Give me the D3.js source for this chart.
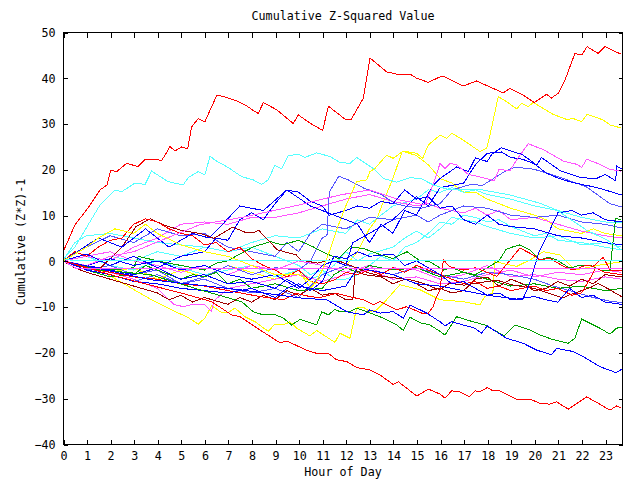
<!DOCTYPE html>
<html><head><meta charset="utf-8">
<script src="https://cdn.jsdelivr.net/npm/d3@7"></script>
<style>
html,body{margin:0;padding:0;background:#fff;}
text{font-family:"DejaVu Sans Mono",monospace;font-size:11.7px;fill:#000;}
</style></head>
<body><svg id="chart" width="640" height="480"></svg>
<script>
// ---- data (hour of day, cumulative value) ----
const titleText = "Cumulative Z-Squared Value";
const xTitle = "Hour of Day";
const yTitle = "Cumulative (Z*Z)-1";
const xTickValues = d3.range(0, 24);
const yTickValues = [-40, -30, -20, -10, 0, 10, 20, 30, 40, 50];

const red1 = [[0,1.9],[0.5,7.8],[1.15,12.2],[1.57,15.5],[1.87,16.6],[2.02,19.8],[2.28,19.5],[2.7,21.3],[2.98,20.9],[3.19,20.6],[3.48,22.2],[4.19,22.0],[4.33,23.1],[4.54,25.0],[4.75,24.0],[5.04,24.9],[5.29,24.5],[5.46,29.3],[5.74,31.1],[6.02,30.4],[6.52,36.1],[6.73,36.0],[7.3,35.1],[7.72,34.1],[8.15,32.6],[8.29,32.2],[8.5,34.6],[9.07,33.0],[9.77,30.0],[9.98,31.9],[10.48,30.1],[11.02,28.5],[11.26,33.8],[12.01,30.8],[12.22,30.8],[12.74,35.5],[13.03,44.3],[13.73,41.3],[14.16,40.8],[14.72,40.8],[15.01,39.9],[15.5,39.0],[16.0,40.2],[16.21,40.2],[16.98,38.2],[17.55,39.3],[18.68,36.7],[18.96,37.7],[19.53,36.2],[20.0,34.6],[20.52,36.4],[20.73,35.6],[21.01,36.6],[21.3,39.5],[21.72,45.3],[22.01,45.0],[22.24,46.8],[22.71,45.3],[23.0,46.8],[23.7,45.1]];
const red2 = [[0,0],[0.7,-1],[2,-3],[3.7,-5.3],[5,-7],[6.3,-8.9],[7.16,-11.8],[7.51,-12.2],[8.36,-15.1],[9.21,-17.9],[9.49,-17.5],[10.34,-19.5],[10.76,-20.2],[11.26,-20.2],[11.61,-21.6],[12.04,-22.0],[12.46,-23.3],[13.02,-23.8],[13.45,-24.9],[14.01,-27.0],[14.23,-26.4],[14.58,-27.8],[15.01,-29.5],[15.22,-28.9],[15.5,-28.0],[16.0,-29.1],[16.21,-30.0],[16.49,-28.4],[16.84,-28.6],[17.24,-29.7],[17.48,-28.4],[17.69,-28.6],[18.0,-27.7],[18.26,-28.4],[18.54,-28.4],[19.25,-30.2],[19.81,-30.2],[20.24,-31.1],[20.66,-31.3],[20.95,-30.8],[21.44,-32.4],[22.22,-29.7],[22.71,-31.1],[23.21,-32.6],[23.49,-31.7],[23.7,-32.2]];
const red3 = [[0,0],[1,-1.5],[2,-2.5],[3,-3.5],[4,-4],[5,-5],[6,-5.5],[7,-6.5],[8.36,-7.8],[9.35,-8.5],[9.92,-7.1],[10.48,-7.8],[10.9,-8.0],[11.61,-7.1],[12.32,-8.0],[12.74,-8.5],[13.17,-9.6],[13.45,-8.9],[14.16,-10.7],[14.58,-10.0],[15.22,-11.4],[15.5,-11.4],[15.71,-10.0],[15.85,-7.8],[16,-6.3],[16.14,0.2],[16.42,-1.3],[17,-2],[17.5,-1.5],[18,-2.5],[18.4,-3.4],[19.04,0.6],[19.39,2.8],[19.95,1.3],[20.24,0.2],[20.66,0.6],[21.23,-1.2],[21.65,-2.0],[22.22,-0.9],[22.5,-1.2],[22.92,0.8],[23.21,-2.0],[23.7,-2.0]];
const red4 = [[0,0],[0.5,2],[1,1],[1.5,3],[2,4.5],[2.5,5],[3,8],[3.5,9.2],[4,8.5],[4.5,7],[5,6],[5.5,5.5],[6,3.5],[6.5,4],[7,2],[7.5,3],[8,0.5],[8.5,-1],[9,-2],[9.5,-3.5],[10,-2],[10.5,-4.5],[11,-5],[11.5,-4.2],[12,-2.5],[12.5,-3],[13,-2],[13.5,-3],[14,-1.5],[14.5,-2.5],[15,-1],[15.5,-2],[16,-3],[16.5,-4],[17,-5],[17.5,-4.5],[18,-6],[18.5,-5.5],[19,-6.5],[20,-5.5],[20.5,-6.5],[21,-6],[21.6,-7.5],[22,-7],[22.3,-4.5],[22.6,-1.5],[23,-2.5],[23.7,-3]];
const darkred1 = [[0,0],[0.5,-1],[1.5,-2],[2.5,3],[3.1,7.5],[3.7,9.2],[4.3,7.8],[5.0,6.7],[5.9,5.9],[6.4,4.9],[7.2,7.4],[7.8,6.1],[8.15,6.3],[8.3,6.7],[9.1,2.4],[9.9,1.3],[10.1,0.2],[10.8,-0.5],[11.3,0.2],[11.8,-0.2],[12.2,-1],[13.0,-2.7],[13.6,-3.4],[14.2,-3.8],[14.7,-4.1],[15.3,-4.9],[15.8,-6],[16,-6.3],[16.4,-4.9],[17,-5.3],[18.4,-4.2],[19.1,-5.3],[20,-6],[21.2,-8.1],[21.5,-7.4],[22.4,-5.8],[22.7,-4.9],[23.2,-6.3],[23.7,-7.8]];
const darkred2 = [[0,0],[0.5,-1.5],[1,-2.5],[2,-4],[3,-5.5],[4,-7],[4.5,-8.5],[5,-7.5],[5.5,-9],[6,-8],[7,-9.5],[7.5,-8],[8,-9],[8.5,-7.5],[9,-8.5],[9.5,-6.5],[10,-7.5],[10.5,-6],[11,-7.5],[11.5,-7],[12,-8.5],[12.3,-8.5],[12.4,-2],[12.8,-3],[13.5,-3.5],[14,-5],[14.5,-4],[15,-5],[15.5,-6.5],[16,-6],[16.5,-7],[17,-6.5],[17.5,-4],[18,-3.5],[18.5,-5.5],[19,-4],[19.5,-5],[20,-6.5],[20.5,-6],[21,-4.5],[21.5,-5.5],[22,-4],[22.5,-5],[23,-3],[23.7,-3.5]];
const green1 = [[0,0],[1.57,-2],[3.7,-3],[5.8,-6.3],[7.58,-8.9],[8.07,-11.1],[8.5,-11.8],[8.92,-11.6],[9.35,-12.5],[9.7,-14.0],[10.06,-12.8],[10.76,-14.0],[10.98,-11.1],[11.26,-11.8],[11.54,-10.6],[11.75,-11.1],[12.18,-11.1],[12.46,-10.3],[12.89,-11.1],[13.59,-12.5],[14.16,-14.0],[14.44,-15.2],[14.72,-12.3],[15.15,-13.5],[15.57,-14.0],[16.0,-15.4],[16.21,-16.2],[16.7,-12.2],[17.27,-13.1],[17.9,-14.0],[18.4,-15.4],[18.71,-16.4],[19.18,-14.0],[19.81,-15.1],[20.24,-16.2],[20.8,-17.2],[21.44,-18.0],[21.72,-16.9],[22.01,-12.7],[22.78,-14.7],[23.21,-16.0],[23.49,-14.7],[23.7,-14.5]];
const green2 = [[0,0],[1,-1],[2,-2],[3,-1.5],[3.2,1],[4,0],[5,-1],[6,-2],[6.5,-0.5],[7,0],[7.5,1.5],[8.1,3.1],[8.8,4.2],[9.3,3.5],[10,4.5],[10.6,3.1],[11.2,1.5],[11.7,0.5],[12.2,3.1],[12.8,2.6],[13.5,1.3],[14,0.5],[14.6,2.0],[15.1,0.2],[15.57,-0.2],[16.14,-2.0],[16.5,-1.5],[17,-2.5],[17.5,-3],[18,-1.5],[18.5,0],[18.8,2.5],[19.11,3.1],[19.39,3.5],[19.81,2.4],[20.24,0.2],[20.59,0.8],[20.95,0.2],[21.51,-1.6],[21.93,-0.9],[22.36,-0.9],[22.78,-2.0],[23.21,-2.0],[23.35,4.6],[23.45,9.3],[23.7,8.9]];
const green3 = [[0,0],[1,-2],[2,-3.5],[3,-3],[3.5,-1],[4,-2],[5,-4],[5.5,-3],[6,-3.5],[6.5,-2.5],[7,-5],[7.5,-4],[8,-6],[9,-5],[10,-6.5],[11,-6],[11.5,-3],[12,-1.5],[12.5,-2.5],[13,-1],[14,-2],[15,-1.5],[16,-3.5],[17,-2.5],[18,-4],[19,-5.5],[20,-5],[21,-6],[22,-5.5],[23,-6.5],[23.7,-6]];
const blue1 = [[0,0],[3.7,-4.1],[7.5,-6.3],[10.06,-8.1],[11.19,-8.5],[12.04,-11.1],[12.74,-11.8],[13.02,-10.7],[13.45,-11.4],[14.01,-11.1],[14.44,-12.5],[14.72,-9.6],[15.43,-11.4],[16.0,-13.3],[16.21,-14.2],[16.49,-13.3],[17.13,-14.2],[17.48,-14.7],[17.76,-15.8],[18.0,-14.2],[18.82,-16.9],[19.53,-18.0],[20.1,-19.5],[20.73,-20.5],[20.95,-19.1],[21.65,-19.8],[22.07,-20.9],[22.78,-23.1],[23.46,-24.4],[23.7,-23.7]];
const blue2 = [[0,0],[1.5,5],[2.5,3],[3.5,7],[4.5,3],[5.5,6],[6.2,5],[6.5,6.5],[7.5,12.0],[8.5,11],[9.5,15.5],[10.5,12],[11.5,10],[12.5,8],[13,4],[13.5,8],[14,6],[14.5,11],[15,10],[15.7,16.5],[16,18],[16.7,20.5],[17.2,19.5],[17.5,22.5],[18,21.7],[18.2,23.3],[18.6,24.7],[19.5,23.2],[20.1,20.9],[20.3,22.6],[21.1,19.7],[21.9,18.3],[22.6,17.9],[23,18.9],[23.45,17.5],[23.5,20.7],[23.7,20.1]];
const blue3 = [[0,0],[1,1.5],[2,-1],[3,1],[4,-1.5],[5,1],[6,2],[6.5,5],[7,4.5],[7.5,9],[8,10.5],[8.5,9],[9,12.5],[9.5,15.5],[10,15],[10.5,13],[11,12],[11.3,10],[12,11],[12.5,12],[13,11.5],[13.5,13],[14,12.5],[14.5,15.5],[15,13.5],[15.5,14],[16,11.5],[16.5,12],[17,9],[17.5,8],[18,10],[18.5,8],[19,7.5],[20,7],[21,5.5],[22,5],[23,4],[23.7,3.5]];
const blue4 = [[0,0],[1,-1],[2,-2],[3,-3],[4,-1.5],[5,-4],[6,-3],[7,-5],[8,-4.5],[9,-6],[9.5,-4],[10,-5.5],[11,-6.5],[12,-5.5],[12.5,-1.5],[13,-2],[14,-3],[15,-5],[16,-5.5],[17,-6.5],[18,-7.5],[19.5,-8.5],[19.8,-5],[20.2,2],[20.5,5],[21,10.5],[21.6,11],[22,10],[22.5,10.5],[23,9],[23.7,8.5]];
const blue5 = [[0,0],[1,-1],[2,0.5],[3,-1],[4,0],[5,-2],[6,-1],[7,-3],[8,-4],[9,-3],[10,-6],[10.5,-4],[11,-1],[11.5,0],[12,-1],[12.3,4],[13,6],[14,9],[15,14],[15.5,12],[16,16],[17,17],[17.5,21],[18,23.5],[18.6,23.8],[19,22.6],[19.5,22.2],[20,21.2],[20.5,19.2],[21,18.1],[21.5,17.3],[22,16.7],[22.5,16.2],[23,15.5],[23.7,14.4]];
const blue6 = [[0,0],[1,-2],[2,-3],[3,-4.5],[4,-5],[5,-6],[6,-6.5],[7,-7],[8,-6],[9,-8],[9.5,-6],[10,-5],[10.5,-6.5],[11,-4.5],[11.5,1],[12,0.5],[12.5,2],[13,1],[14,1.5],[14.5,-1],[15,0],[15.5,-1.5],[16,-3],[16.5,-5],[17,-4.5],[17.5,-6],[18,-7.5],[18.5,-7],[19,-8.5],[20,-7.8],[20.5,-8.5],[21,-9],[21.5,-6],[22,-8],[22.5,-7.5],[23,-9],[23.7,-9.5]];
const slate1 = [[0,0],[1,-1.5],[2,-3],[3,-4.5],[4,-3],[5,-5],[6,-3.5],[7,-1],[8,-3],[9,-1.5],[10,-2],[10.5,0],[11,5],[11.2,5.5],[11.3,15],[11.7,18.5],[12.1,17.7],[12.8,15.8],[13.5,14.5],[14.1,12.5],[14.5,12],[15.2,11.5],[16,12.5],[16.5,15.5],[17.3,16.7],[17.8,16.5],[18.8,19.7],[19.2,20.5],[20,20.0],[20.9,18.6],[21.5,17.5],[22.2,16.2],[22.8,14],[23.2,12.5],[23.7,11.8]];
const slate2 = [[0,0],[1,3],[2,5.5],[3,4],[4,7],[5,5.5],[6,6],[7,3],[8,2],[9,1],[9.5,4],[10,2],[10.5,6],[11,8],[12,7],[13,9.5],[14,9],[15,10],[15.5,8.5],[16,10],[17,12],[18,11.5],[19,10],[20,9.5],[21,10],[22,8.5],[23,8],[23.7,7.2]];
const slate3 = [[0,0],[1,-2],[2,-1],[3,-3],[4,-2],[5,-5],[6,-4],[7,-6],[8,-7],[9,-6],[10,-8],[11,-3],[11.5,-2],[12,-1],[13,-2],[14,-3],[15,-1.5],[16,-3],[17,-4],[18,-2.5],[19,-3],[20,-4],[20.8,-5.5],[21.5,-6.5],[22.5,-8],[23.2,-8.8],[23.7,-9.1]];
const magenta1 = [[0,0],[1,-1],[2,1],[3,2],[3.7,3.5],[5.8,7.9],[7.7,9.6],[10,12.2],[11.75,14.4],[13,15.5],[14.3,13.3],[15.36,12.2],[15.7,16.6],[16.0,21.3],[16.21,20.2],[16.42,21.3],[16.7,21.0],[17.2,18.9],[17.8,18.2],[18.3,17.5],[18.5,20.0],[18.96,19.7],[19.31,22.5],[19.74,25.6],[20.38,24.3],[21.23,21.8],[21.8,21.1],[22.01,20.4],[22.22,22.2],[22.78,21.1],[23.21,20.0],[23.7,19.6]];
const magenta2 = [[0,0],[1,-1],[2,-2.5],[3,-4],[4,-6],[4.7,-9.5],[5.1,-10.0],[5.4,-9.6],[6,-9.5],[6.3,-11.0],[6.4,-8.8],[7,-6],[8,-5],[9,-4],[10,-3],[11,-4.5],[12,-3],[13,-2],[14,-4],[15,-3.5],[16,-5],[17,-4.5],[18,-3],[19,-2],[20,-3.5],[21,-2.5],[22,-3],[23,-2],[23.7,-2.5]];
const magenta3 = [[0,0],[1,1],[2,0],[3,3],[4,5],[5,8],[6,8.5],[7,8],[8,9.5],[9,9.5],[10,10.5],[11,12],[12,13.5],[13,14.5],[14,13],[15,12],[15.5,12.5],[16,11.5],[17,10.5],[17.5,11.5],[18,10],[18.5,11],[19,9],[20,9.5],[21,8],[22,6.5],[23,5.5],[23.7,5]];
const magenta4 = [[0,0],[1,1],[2,2],[3,0],[4,-1],[5,-2.5],[6,-1],[7,-3],[8,-1],[9,-2],[10,0],[11,-1],[12,-2.5],[13,-1],[13.5,-3],[14,-1.5],[15,-2],[16,-4],[17,-3],[18,-1],[19,-3.5],[20,-3],[21,-4],[22,-4.5],[23,-3.5],[23.7,-4]];
const magentaFlat = [[0,0],[0.6,-1.75],[23.72,-1.75]];
const cyan1 = [[0,0.4],[0.51,3.1],[1.57,12.2],[2.21,15.5],[2.49,15.1],[3.05,17.0],[3.48,16.7],[3.76,19.6],[4.47,17.3],[5.1,16.6],[5.32,18.2],[5.74,19.5],[6.02,18.8],[6.24,22.9],[6.45,22.0],[7.01,20.4],[7.58,18.4],[8.07,17.7],[8.43,16.7],[8.71,17.7],[8.99,20.9],[9.28,20.1],[9.56,23.0],[9.98,23.3],[10.27,22.6],[10.76,23.6],[11.33,22.8],[11.75,21.5],[12.18,21.3],[12.46,22.6],[13.16,20.2],[13.59,18.0],[14.16,17.2],[14.72,18.2],[15.22,17.9],[15.71,16.6],[16.42,15.5],[17.8,15.5],[18.96,14.4],[20.24,12.6],[20.95,11.1],[22.22,6.7],[23.07,4.6],[23.7,2.4]];
const cyan2 = [[0,0],[0.5,4],[1,5.5],[2,6],[3,5],[4,4],[5,3.5],[6,3],[7,2],[8,3],[9,1],[10,-1],[10.5,-3],[11,-2],[11.5,-4],[12,-4],[12.5,-3],[13,-1],[13.5,1],[14,0],[14.5,3],[15,4],[15.5,6],[16,8.5],[16.5,8],[17,10],[17.5,9.5],[18,8.5],[18.5,9],[19,7.5],[20,5.5],[20.5,6],[21,4.5],[22,4],[22.5,3.5],[23,3],[23.7,2.4]];
const cyan3 = [[0,0],[1,-1],[2,1],[3,0],[4,2],[5,1],[6,3],[7,2],[8,4],[9,5.5],[10,5],[11,7],[12,6],[12.5,9],[13,8],[13.5,10],[14,12],[15,13.5],[15.5,15.5],[16,15],[16.5,16],[17,15],[17.5,15.5],[18,14.5],[19,13.5],[20,12],[21,11],[22,9.5],[23,8.5],[23.7,8.3]];
const cyan4 = [[0,0],[1,1],[2,-1],[3,-2],[4,0],[5,-1.5],[6,-3],[7,-2],[8,-1],[9,-3.5],[10,-2],[10.5,-4],[11,-3],[11.5,-1],[12,2],[12.5,0],[13,1.5],[14,3],[14.5,5],[15,6.5],[15.5,5],[16,7],[16.5,9.5],[17,9],[17.5,8.5],[18,7.5],[19,6],[20,5],[21,5.5],[22,3.5],[23,4],[23.7,3]];
const cyanFlat = [[0,0.5],[0.5,0],[23.72,0]];
const yellow1 = [[0,0],[1,3],[1.5,5],[2.2,7],[3,6],[3.5,8],[4,6],[5,3.5],[6,2],[7,1],[8,-1],[9,-3],[10,-3],[10.7,-5],[11,-2],[11.3,2],[11.7,8],[12,12],[12.46,17.3],[12.89,17.7],[13.02,19.5],[13.24,20.2],[13.73,23.1],[14.01,22.4],[14.44,24],[15,23.5],[15.26,22.4],[15.5,25.3],[16,27.5],[16.28,26.8],[16.49,27.9],[16.98,26.4],[17.69,23.9],[17.98,24.6],[18.12,27.5],[18.47,35.9],[18.82,34.8],[19.25,33.2],[19.46,34.4],[19.74,33.7],[19.95,34.6],[20.38,33.3],[20.8,32],[21.37,30.9],[21.65,31.1],[22,30.4],[22.24,32],[22.92,30.8],[23.21,29.7],[23.7,29]];
const yellow2 = [[0,0],[1.57,-2],[3.76,-8.5],[4.89,-11.4],[5.25,-12.2],[5.74,-13.8],[6.02,-12.5],[6.31,-9.8],[6.73,-11.3],[7.01,-11.3],[7.3,-10.3],[7.72,-12.2],[8.15,-13.3],[8.71,-15.4],[8.99,-13.8],[9.35,-14.0],[9.63,-13.3],[9.92,-14.7],[10.48,-16.4],[10.76,-15.2],[11.54,-17.8],[11.75,-15.8],[12.18,-16.9],[12.46,-10.3],[12.74,-10.1],[13.02,-11.1],[13.31,-10.7],[13.73,-8.5],[14.3,-5.2],[15.15,-6.3],[16.0,-8.5],[16.97,-8.9],[17.69,-9.6],[17.9,-7.8],[18.24,-7.0],[18.33,-0.2],[19.25,-1.2],[19.81,0.2],[20.38,2.0],[21.09,1.3],[21.72,-2],[22.78,-0.9],[23.7,-0.2]];
const yellow3 = [[0,0],[1,-1],[2,-2.5],[3,-1.5],[4,-4],[5,-2],[6,-3.5],[7,-1],[8,-2.5],[9,-4],[10,-2],[10.5,-6],[11,-3],[12,-1],[12.5,2],[13,7],[13.3,9],[13.6,13],[14.0,18],[14.4,24],[14.7,23.5],[15,23],[15.5,21],[16,18],[16.5,17],[17,15],[17.5,15],[18,13.5],[18.5,12.5],[19,11.5],[20,10],[20.5,9],[21,7],[21.5,6.5],[22,6],[22.5,7],[23,6],[23.7,5.5]];

const seriesData = [yellow3, yellow2, cyan4, cyan3, cyan2, magenta4, magenta3, magenta2, slate3, slate2, slate1, green3, green2, darkred2, darkred1, red4, red3, blue6, blue5, blue4, blue3, blue2, magenta1, cyan1, yellow1, green1, blue1, red2, red1, magentaFlat, cyanFlat];
const seriesColors = ["#ffff00","#ffff00","#55ffff","#55ffff","#55ffff","#ff55ff","#ff55ff","#ff55ff","#5555ff","#5555ff","#5555ff","#00a000","#00a000","#a00000","#a00000","#ff0000","#ff0000","#0000ff","#0000ff","#0000ff","#0000ff","#0000ff","#ff55ff","#55ffff","#ffff00","#00a000","#0000ff","#ff0000","#ff0000","#ff55ff","#55ffff"];

// ---- layout ----
const L = 63, R = 622, T = 32, B = 444;
const svg = d3.select("#chart");
svg.append("rect").attr("width",640).attr("height",480).attr("fill","#fff");
const x = d3.scaleLinear().domain([0, 23.72]).range([L, R]);
const y = d3.scaleLinear().domain([-40, 50]).range([B, T]);

const line = d3.line().x(d => x(d[0])).y(d => y(d[1])).curve(d3.curveLinear);
const plot = svg.append("g");
seriesData.forEach((s, i) => {
  plot.append("path").datum(s).attr("d", line)
    .attr("fill","none").attr("stroke", seriesColors[i])
    .attr("stroke-width", 1).attr("shape-rendering","crispEdges");
});

// frame
svg.append("rect").attr("x",L+0.5).attr("y",T+0.5).attr("width",R-L).attr("height",B-T)
  .attr("fill","none").attr("stroke","#000").attr("stroke-width",1).attr("shape-rendering","crispEdges");

// axes with inward ticks
const xb = svg.append("g").attr("transform",`translate(0.5,${B+0.5})`)
  .call(d3.axisBottom(x).tickValues(xTickValues).tickSize(-5).tickPadding(7).tickFormat(d3.format("d")));
const xt = svg.append("g").attr("transform",`translate(0.5,${T+0.5})`)
  .call(d3.axisTop(x).tickValues(xTickValues).tickSize(-5).tickFormat(""));
const yl = svg.append("g").attr("transform",`translate(${L+0.5},0.5)`)
  .call(d3.axisLeft(y).tickValues(yTickValues).tickSize(-4).tickPadding(8).tickFormat(d3.format("d")));
const yr = svg.append("g").attr("transform",`translate(${R+0.5},0.5)`)
  .call(d3.axisRight(y).tickValues(yTickValues).tickSize(-4).tickFormat(""));
[xb,xt,yl,yr].forEach(g => {
  g.select(".domain").remove();
  g.selectAll("line").attr("stroke","#000").attr("shape-rendering","crispEdges");
  g.selectAll("text").attr("fill","#000").style("font-family","'DejaVu Sans Mono',monospace").style("font-size","11.7px");
});
xb.selectAll("text").attr("dy","0.71em");

svg.append("text").attr("x",343).attr("y",20).attr("text-anchor","middle").text(titleText);
svg.append("text").attr("x",343).attr("y",476).attr("text-anchor","middle").text(xTitle);
svg.append("text").attr("transform","translate(25,242) rotate(-90)").attr("text-anchor","middle").text(yTitle);
</script></body></html>
